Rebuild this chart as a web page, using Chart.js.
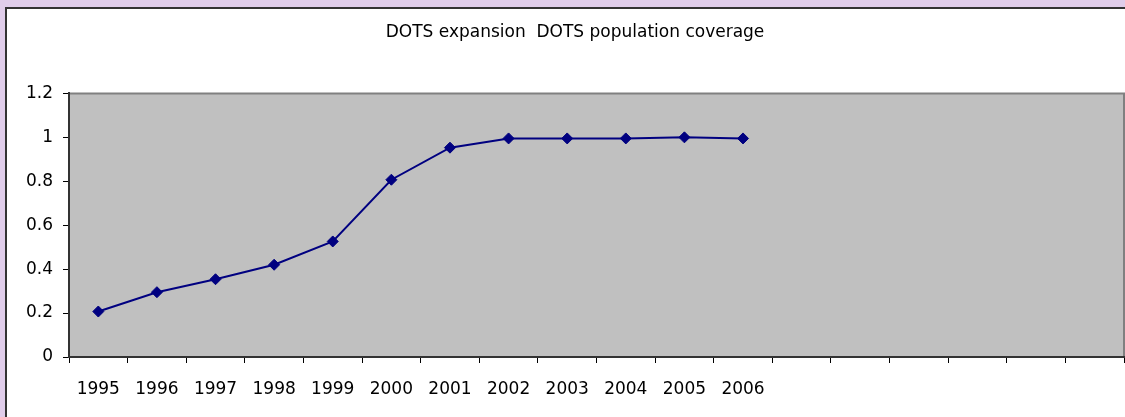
<!DOCTYPE html>
<html>
<head>
<meta charset="utf-8">
<script src="https://cdn.jsdelivr.net/npm/chart.js@4.4.0/dist/chart.umd.min.js"></script>
<style>
html,body{margin:0;padding:0;overflow:hidden;}
body{width:1125px;height:417px;background:#e0cdea;position:relative;}
#box{position:absolute;left:5px;top:7px;width:1118px;height:408px;background:#fff;border-left:2px solid #333;border-top:2px solid #333;}
#box canvas{display:block;}
</style>
</head>
<body>
<div id="box"><canvas id="lineChart" width="1118" height="408"></canvas></div>
<script>
// categories (the blank ones are empty slots on the axis)
var years = ["1995","1996","1997","1998","1999","2000","2001","2002","2003","2004","2005","2006","","","","","",""];
// DOTS population coverage
var coverage = [0.207,0.295,0.354,0.42,0.526,0.807,0.953,0.995,0.995,0.995,1.0,0.995,null,null,null,null,null,null];
var yTicks = [0,0.2,0.4,0.6,0.8,1,1.2];

var titleText = "DOTS expansion  DOTS population coverage";
var fontFam = "DejaVu Sans, Liberation Sans, sans-serif";

// grey plot area like the excel chart
var plotBg = {
	id: "plotBg",
	beforeDraw: function(chart){
		var a = chart.chartArea, ctx = chart.ctx;
		ctx.save();
		ctx.fillStyle = "#c0c0c0";
		ctx.fillRect(a.left, a.top, a.right - a.left, a.bottom - a.top);
		ctx.strokeStyle = "#808080";
		ctx.lineWidth = 2;
		ctx.beginPath();
		ctx.moveTo(a.left, a.top);
		ctx.lineTo(a.right, a.top);
		ctx.lineTo(a.right, a.bottom);
		ctx.stroke();
		ctx.restore();
	}
};

var ctx = document.getElementById("lineChart").getContext("2d");
var myChart = new Chart(ctx, {
	type: "line",
	data: {
		labels: years,
		datasets: [{
			label: "DOTS population coverage",
			data: coverage,
			borderColor: "#000080",
			backgroundColor: "#000080",
			borderWidth: 2,
			pointStyle: "rectRot",
			pointRadius: 5.5,
			pointBorderWidth: 1,
			pointBackgroundColor: "#000080",
			pointBorderColor: "#000080",
			tension: 0,
			fill: false
		}]
	},
	options: {
		responsive: false,
		animation: false,
		layout: { autoPadding: false, padding: { left: 18, right: 0, top: 0, bottom: 0 } },
		plugins: {
			legend: { display: false },
			tooltip: { enabled: false },
			title: {
				display: true,
				text: titleText,
				color: "#000",
				font: { family: fontFam, size: 17, weight: "normal" },
				padding: { top: 13, bottom: 51 }
			}
		},
		scales: {
			x: {
				type: "category",
				offset: true,
				grid: { offset: true, drawOnChartArea: false, drawTicks: true, tickLength: 6, color: "#000", lineWidth: 1 },
				border: { display: true, color: "#333", width: 2 },
				ticks: {
					color: "#000",
					autoSkip: false,
					maxRotation: 0,
					padding: 16,
					font: { family: fontFam, size: 17 }
				},
				afterFit: function(scale){
					scale.height = 60;
					scale.paddingLeft = 0;
					scale.paddingRight = 1;
				}
			},
			y: {
				min: 0,
				max: 1.2,
				afterBuildTicks: function(scale){
					scale.ticks = yTicks.map(function(v){ return { value: v }; });
				},
				grid: { drawOnChartArea: false, drawTicks: true, tickLength: 6, color: "#000", lineWidth: 1 },
				border: { display: true, color: "#333", width: 2 },
				ticks: {
					color: "#000",
					padding: 10,
					font: { family: fontFam, size: 17 },
					callback: function(v){ return String(Math.round(v * 10) / 10); }
				},
				afterFit: function(scale){ scale.width = 44; }
			}
		}
	},
	plugins: [plotBg]
});
</script>
</body>
</html>
